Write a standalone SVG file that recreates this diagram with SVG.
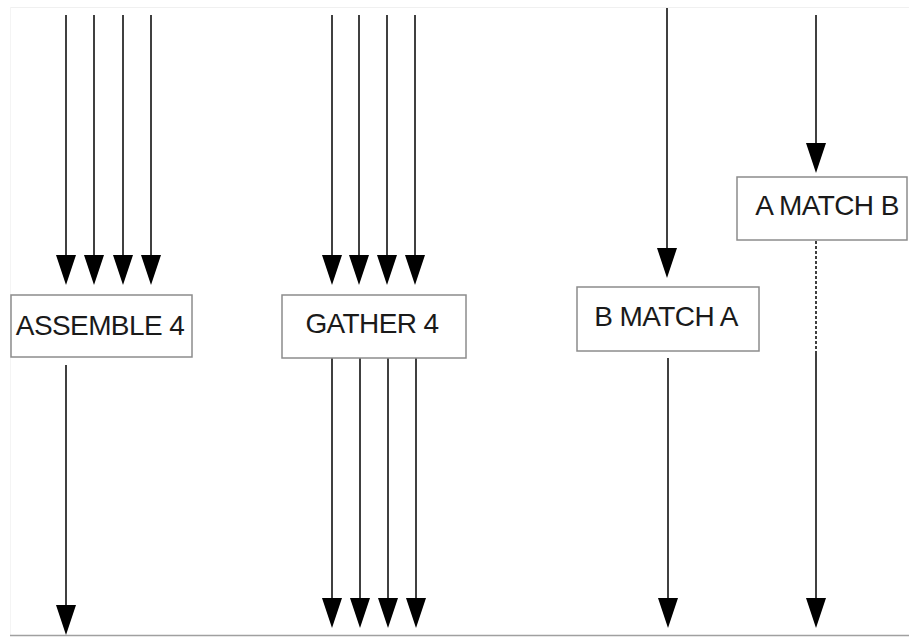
<svg xmlns="http://www.w3.org/2000/svg" width="909" height="637" viewBox="0 0 909 637">
  <defs>
    <!-- arrowhead: 30 long, 20 wide, starts where the line ends -->
    <marker id="head" viewBox="0 -10 30 20" refX="0" refY="0" markerWidth="30" markerHeight="20" markerUnits="userSpaceOnUse" orient="auto">
      <path d="M0,-10 L30,0 L0,10 z" fill="#000"/>
    </marker>
    <style>
      .box { fill: #fff; stroke: #8c8c8c; stroke-width: 1.5; }
      .lbl { font-family: "Liberation Sans", Arial, sans-serif; font-size: 28px; fill: #1a1a1a; text-anchor: middle; letter-spacing: -0.6px; }
      .wire { stroke: #000; stroke-width: 1.5; fill: none; }
      .arr { marker-end: url(#head); }
      .dot { stroke-dasharray: 3 2; }
    </style>
  </defs>

  <!-- canvas -->
  <rect x="0" y="0" width="909" height="637" fill="#fff"/>
  <line x1="10" y1="7.5" x2="909" y2="7.5" stroke="#f0f0f0" stroke-width="1"/>
  <line x1="10.5" y1="7" x2="10.5" y2="636" stroke="#f4f4f4" stroke-width="1"/>
  <line x1="10" y1="635.5" x2="909" y2="635.5" stroke="#a0a0a0" stroke-width="1.5"/>

  <g id="connectors">
    <!-- inputs to ASSEMBLE 4 -->
    <line class="wire arr" x1="66" y1="15" x2="66" y2="255"/>
    <line class="wire arr" x1="94" y1="15" x2="94" y2="255"/>
    <line class="wire arr" x1="123" y1="15" x2="123" y2="255"/>
    <line class="wire arr" x1="151" y1="15" x2="151" y2="255"/>
    <!-- output of ASSEMBLE 4 -->
    <line class="wire arr" x1="66" y1="365" x2="66" y2="605"/>

    <!-- inputs to GATHER 4 -->
    <line class="wire arr" x1="332" y1="15" x2="332" y2="255"/>
    <line class="wire arr" x1="359" y1="15" x2="359" y2="255"/>
    <line class="wire arr" x1="387" y1="15" x2="387" y2="255"/>
    <line class="wire arr" x1="415" y1="15" x2="415" y2="255"/>
    <!-- outputs of GATHER 4 -->
    <line class="wire arr" x1="332" y1="358" x2="332" y2="598"/>
    <line class="wire arr" x1="360" y1="358" x2="360" y2="598"/>
    <line class="wire arr" x1="388" y1="358" x2="388" y2="598"/>
    <line class="wire arr" x1="416" y1="358" x2="416" y2="598"/>

    <!-- B MATCH A -->
    <line class="wire arr" x1="667" y1="8" x2="667" y2="248"/>
    <line class="wire arr" x1="668" y1="358" x2="668" y2="598"/>

    <!-- A MATCH B -->
    <line class="wire arr" x1="816" y1="15" x2="816" y2="143"/>
    <line class="wire dot" x1="816" y1="241" x2="816" y2="352"/>
    <line class="wire arr" x1="816" y1="352" x2="816" y2="598"/>
  </g>

  <g id="assemble4">
    <rect class="box" x="11" y="295" width="181" height="62"/>
    <text class="lbl" x="100" y="335">ASSEMBLE 4</text>
  </g>

  <g id="gather4">
    <rect class="box" x="282" y="295" width="184" height="63"/>
    <text class="lbl" x="372" y="333">GATHER 4</text>
  </g>

  <g id="bMatchA">
    <rect class="box" x="577" y="287" width="182" height="64"/>
    <text class="lbl" x="666" y="326">B MATCH A</text>
  </g>

  <g id="aMatchB">
    <rect class="box" x="737" y="177" width="170" height="63"/>
    <text class="lbl" x="827" y="215">A MATCH B</text>
  </g>
</svg>
